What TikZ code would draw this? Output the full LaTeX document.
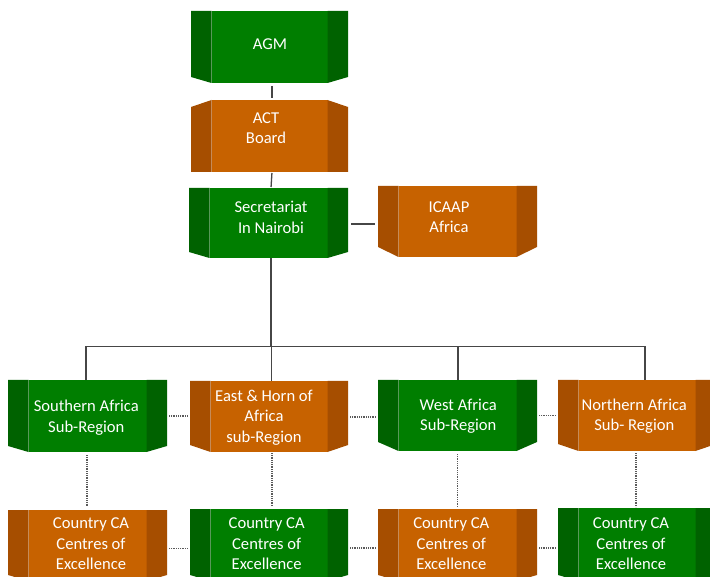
\documentclass[tikz,border=0pt]{standalone}
\usepackage{fontspec}
\setmainfont{Carlito}
\definecolor{gface}{RGB}{0,126,0}
\definecolor{gpanel}{RGB}{0,98,0}
\definecolor{oface}{RGB}{199,98,0}
\definecolor{opanel}{RGB}{166,78,0}
\definecolor{lineg}{RGB}{70,70,70}
\definecolor{dotg}{RGB}{90,90,90}
\newcommand\cubeshape[9]{%
  % #1 name, #2 L, #3 T, #4 R, #5 B, #6 top chamfer, #7 bottom chamfer, #8 face, #9 panel
  \fill[#8] (#2+20.5,#3) rectangle (#4-20.5,#5);
  \fill[#9] (#2,#3+#6) -- (#2+20.5,#3) -- (#2+20.5,#5) -- (#2,#5-#7) -- cycle;
  \fill[#9] (#4,#3+#6) -- (#4-20.5,#3) -- (#4-20.5,#5) -- (#4,#5-#7) -- cycle;
  \node[boxn, minimum width={(#4-#2)*1pt}, minimum height={(#5-#3)*1pt}] (#1) at ({(#2+#4)/2},{(#3+#5)/2}) {};
}
\begin{document}
\begin{tikzpicture}[x=1pt,y=-1pt,
  boxn/.style={inner sep=0pt, outer sep=0pt, rectangle},
  lbl/.style={text=white, font=\fontsize{16.6}{20.5}\selectfont, align=center, inner sep=0pt},
  conn/.style={draw=lineg, line width=1.3pt},
  dots/.style={draw=dotg, line width=1.3pt, dash pattern=on 1pt off 0.8pt}]
\path[use as bounding box] (0,0) rectangle (710,577);
\clip (0,0) rectangle (710,577);
\fill[white] (0,0) rectangle (710,577);
% top column
\cubeshape{agm}{191}{11}{348}{83}{0}{6}{gface}{gpanel}
\cubeshape{act}{191}{100}{348}{172}{7}{0}{oface}{opanel}
\cubeshape{sec}{189}{188}{348}{258}{0}{6}{gface}{gpanel}
\cubeshape{icaap}{378}{186}{537}{257}{0}{10}{oface}{opanel}
% sub-regions
\cubeshape{south}{8}{380}{167}{452}{0}{6}{gface}{gpanel}
\cubeshape{east}{190}{381}{348}{452}{0}{7}{oface}{opanel}
\cubeshape{west}{378}{380}{537}{451}{0}{9}{gface}{gpanel}
\cubeshape{north}{558}{380}{716}{451}{0}{7}{oface}{opanel}
% country rows
\cubeshape{ca1}{8}{510}{167}{581}{0}{6}{oface}{opanel}
\cubeshape{ca2}{190}{509}{348}{581}{0}{6}{gface}{gpanel}
\cubeshape{ca3}{378}{509}{537}{581}{0}{6}{oface}{opanel}
\cubeshape{ca4}{558}{508}{716}{581}{0}{6}{gface}{gpanel}
% labels
\node[lbl] (agm-t) at (270,45.4) {\strut AGM};
\node[lbl] (act-t) at (266,129.2) {\strut ACT\\\strut Board};
\node[lbl] (sec-t) at (271,218.7) {\strut Secretariat\\\strut In Nairobi};
\node[lbl] (icaap-t) at (449,218.5) {\strut ICAAP\\\strut Africa};
\node[lbl] (south-t) at (86.3,418) {\strut Southern Africa\\\strut Sub-Region};
\node[lbl] (east-t) at (264,417.7) {\strut East \& Horn of\\\strut Africa\\\strut sub-Region};
\node[lbl] (west-t) at (458.3,416.2) {\strut West Africa\\\strut Sub-Region};
\node[lbl] (north-t) at (634.3,416.2) {\strut Northern Africa\\\strut Sub- Region};
\node[lbl] (ca1-t) at (91,545) {\strut Country CA\\\strut Centres of\\\strut Excellence};
\node[lbl] (ca2-t) at (266.7,545) {\strut Country CA\\\strut Centres of\\\strut Excellence};
\node[lbl] (ca3-t) at (451.3,545) {\strut Country CA\\\strut Centres of\\\strut Excellence};
\node[lbl] (ca4-t) at (631,545) {\strut Country CA\\\strut Centres of\\\strut Excellence};
% solid connectors
\coordinate (bus) at (0,346.5);
\draw[conn, shorten <=3pt, shorten >=2pt] ([xshift=2.5pt]agm.south) -- ([xshift=2.5pt]act.north);
\draw[conn, shorten <=1pt, shorten >=1pt] ([xshift=2.5pt]act.south) -- ([xshift=2.5pt]sec.north);
\draw[conn, shorten <=3pt, shorten >=3pt] ([yshift=-1pt]sec.east) -- ([yshift=-1pt]sec.east -| icaap.west);
\draw[conn] ([xshift=2.5pt]sec.south) -- ([xshift=2.5pt]sec.south |- bus);
\draw[conn] ([xshift=-1.5pt]south.north) |- ([xshift=8pt]north.north |- bus) -- ([xshift=8pt]north.north);
\draw[conn] ([xshift=2.5pt]east.north) -- ([xshift=2.5pt]east.north |- bus);
\draw[conn] ([xshift=0.5pt]west.north) -- ([xshift=0.5pt]west.north |- bus);
% dotted connectors
\draw[dots, shorten <=2pt, shorten >=2pt] (south.east) -- (south.east -| east.west);
\draw[dots, shorten <=2pt, shorten >=2pt] ([yshift=-0.5pt]east.east) -- ([yshift=-0.5pt]east.east -| west.west);
\draw[dots, shorten <=2pt, shorten >=2pt] (west.east) -- (west.east -| north.west);
\draw[dots, shorten <=2pt, shorten >=2pt] ([yshift=-3pt]ca1.east) -- ([yshift=-3pt]ca1.east -| ca2.west);
\draw[dots, shorten <=2pt, shorten >=2pt] ([yshift=-3pt]ca2.east) -- ([yshift=-3pt]ca2.east -| ca3.west);
\draw[dots, shorten <=2pt, shorten >=2pt] ([yshift=-3pt]ca3.east) -- ([yshift=-3pt]ca3.east -| ca4.west);
\draw[dots, shorten <=3pt, shorten >=3pt] ([xshift=-0.5pt]south.south) -- ([xshift=-0.5pt]south.south |- ca1.north);
\draw[dots, shorten <=1pt, shorten >=3pt] ([xshift=3pt]east.south) -- ([xshift=3pt]east.south |- ca2.north);
\draw[dots, shorten <=3pt, shorten >=2pt] (west.south) -- (west.south |- ca3.north);
\draw[dots, shorten <=2pt, shorten >=1pt] ([xshift=-1pt]north.south) -- ([xshift=-1pt]north.south |- ca4.north);
\end{tikzpicture}
\end{document}
